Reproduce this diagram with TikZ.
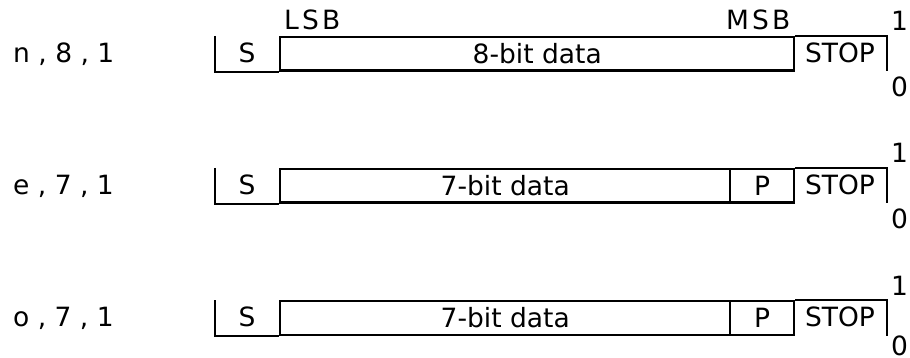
\documentclass[tikz,border=0pt]{standalone}
\usepackage{fontspec}
\setmainfont{DejaVu Sans}
\begin{document}
\begin{tikzpicture}[x=1pt,y=-1pt,line width=2.4pt,
  txt/.style={font=\fontsize{26.5}{30}\selectfont,inner sep=0pt},
  field/.style={txt,draw,minimum height=33.5pt,anchor=north west,text height=19pt,text depth=0pt},
  lbl/.style={txt,anchor=base west},
  ctr/.style={txt,anchor=base},
  spaced/.style={txt,anchor=base west,font=\fontsize{26.5}{30}\selectfont\addfontfeature{LetterSpace=12}}]
\useasboundingbox (0,0) rectangle (910,358);

% row 1: n,8,1
\node[lbl] (l1) at (12,62.5) {n , 8 , 1};
\node[spaced] (lsb) at (283,29.5) {LSB};
\node[spaced] (msb) at (725,29.5) {MSB};
\coordinate (a1) at (215,36);
\node[field,minimum width=514pt] (d1) at (279,36) {8-bit data};
\node[ctr] (s1) at (247,62.5) {S};
\node[ctr] (t1) at (840,62.5) {STOP};
\coordinate (e1) at (887,71.5);
\draw (a1) |- (d1.south west);
\draw (d1.north east) -| (e1);
\node[lbl] (h1) at (890,31) {1};
\node[lbl] (z1) at (890,97) {0};

% row 2: e,7,1
\node[lbl] (l2) at (12,194.5) {e , 7 , 1};
\coordinate (a2) at (215,168);
\node[field,minimum width=450pt] (d2) at (279,168) {7-bit data};
\node[field,minimum width=64pt] (p2) at (729,168) {P};
\node[ctr] (s2) at (247,194.5) {S};
\node[ctr] (t2) at (840,194.5) {STOP};
\coordinate (e2) at (887,203.5);
\draw (a2) |- (d2.south west);
\draw (p2.north east) -| (e2);
\node[lbl] (h2) at (890,163) {1};
\node[lbl] (z2) at (890,229) {0};

% row 3: o,7,1
\node[lbl] (l3) at (12,326.5) {o , 7 , 1};
\coordinate (a3) at (215,300);
\node[field,minimum width=450pt] (d3) at (279,300) {7-bit data};
\node[field,minimum width=64pt] (p3) at (729,300) {P};
\node[ctr] (s3) at (247,326.5) {S};
\node[ctr] (t3) at (840,326.5) {STOP};
\coordinate (e3) at (887,335.5);
\draw (a3) |- (d3.south west);
\draw (p3.north east) -| (e3);
\node[lbl] (h3) at (890,295) {1};
\node[lbl] (z3) at (890,355) {0};
\end{tikzpicture}
\end{document}
